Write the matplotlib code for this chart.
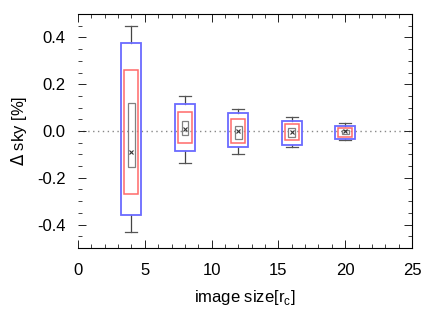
import matplotlib
matplotlib.use("Agg")
import matplotlib.pyplot as plt
from matplotlib.patches import Rectangle
from matplotlib.ticker import MultipleLocator

# image sizes (in core radii)
sizes = [4, 8, 12, 16, 20]

# whisker ends
whisk_lo = [-0.43, -0.137, -0.098, -0.068, -0.04]
whisk_hi = [0.45, 0.15, 0.094, 0.059, 0.035]
# outer (blue) box
blue_lo = [-0.36, -0.085, -0.068, -0.058, -0.035]
blue_hi = [0.375, 0.114, 0.076, 0.043, 0.022]
# middle (red) box
red_lo = [-0.27, -0.053, -0.053, -0.038, -0.025]
red_hi = [0.26, 0.082, 0.051, 0.030, 0.013]
# inner (gray) box
gray_lo = [-0.154, -0.017, -0.035, -0.024, -0.014]
gray_hi = [0.12, 0.043, 0.023, 0.012, 0.006]
# central value
centre = [-0.088, 0.009, 0.0, -0.005, 0.0]

plt.rcParams['font.family'] = ['Liberation Sans', 'DejaVu Sans']

fig = plt.figure(figsize=(4.30, 3.19), dpi=100)
ax = fig.add_axes([0.1814, 0.2226, 0.7767, 0.7335])


def box(x, lo, hi, w, color, lw):
    ax.add_patch(Rectangle((x - w / 2, lo), w, hi - lo, fill=False,
                           edgecolor=color, linewidth=lw, zorder=3))


ax.axhline(0.0, color='#888888', linestyle=(0, (1, 2.5)), linewidth=1.0, zorder=1)

for i, x in enumerate(sizes):
    ax.plot([x, x], [blue_hi[i], whisk_hi[i]], color='#444444', lw=0.9, zorder=2)
    ax.plot([x, x], [whisk_lo[i], blue_lo[i]], color='#444444', lw=0.9, zorder=2)
    ax.plot([x - 0.45, x + 0.45], [whisk_hi[i]] * 2, color='#555555', lw=0.9)
    ax.plot([x - 0.45, x + 0.45], [whisk_lo[i]] * 2, color='#555555', lw=0.9)
    box(x, blue_lo[i], blue_hi[i], 1.5, '#6a6aff', 1.3)
    box(x, red_lo[i], red_hi[i], 1.05, '#ff6a6a', 1.1)
    box(x, gray_lo[i], gray_hi[i], 0.5, '#808080', 0.9)
    ax.plot(x, centre[i], marker='x', ms=2.5, mew=0.8, color='#333333', zorder=4)

ax.set_xlim(0, 25)
ax.set_ylim(-0.5, 0.5)
ax.xaxis.set_major_locator(MultipleLocator(5))
ax.xaxis.set_minor_locator(MultipleLocator(1))
ax.yaxis.set_major_locator(MultipleLocator(0.2))
ax.yaxis.set_minor_locator(MultipleLocator(0.05))
ax.set_yticks([-0.4, -0.2, 0.0, 0.2, 0.4])
ax.set_yticklabels(['-0.4', '-0.2', '0.0', '0.2', '0.4'])

ax.tick_params(which='both', direction='in', top=True, right=True,
               labelsize=12, color='#222222')
ax.tick_params(axis='x', pad=11)
ax.tick_params(axis='y', pad=9)
ax.tick_params(which='major', length=6, width=0.7)
ax.tick_params(which='minor', length=3, width=0.6)
ax.spines['left'].set_visible(False)
for s in ['top', 'right', 'bottom']:
    ax.spines[s].set_linewidth(0.8)

ax.set_xlabel('image size[r$_\\mathregular{c}$]', fontsize=12, labelpad=7)
ax.set_ylabel('$\\Delta$ sky [%]', fontsize=12, labelpad=6)

fig.savefig('out.png', dpi=100)
